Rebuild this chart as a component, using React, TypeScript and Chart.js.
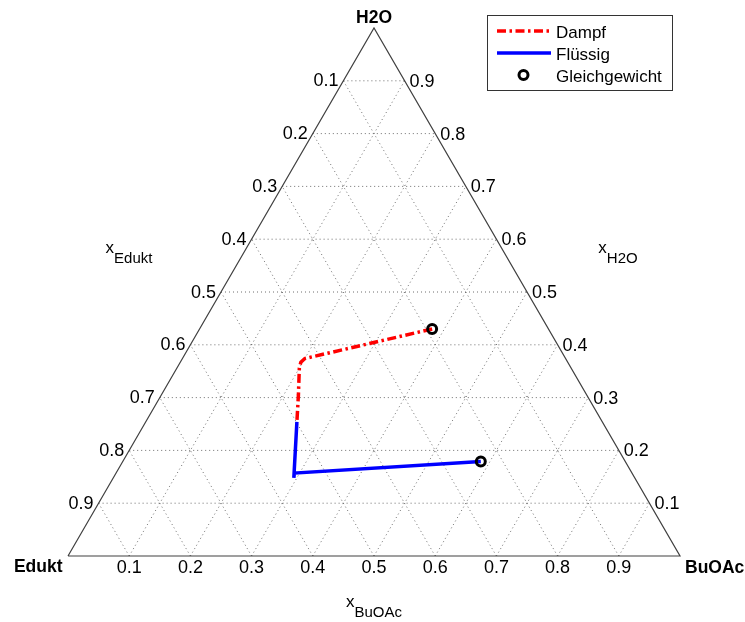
import React, { useEffect, useRef } from 'react';
import { Chart, registerables } from 'chart.js';

Chart.register(...registerables);

// ---- data (ternary fractions: xBuOAc, xH2O; xEdukt = 1 - both) ----
const vertexLabels = ['Edukt', 'BuOAc', 'H2O'];
const tickValues = [0.1, 0.2, 0.3, 0.4, 0.5, 0.6, 0.7, 0.8, 0.9];
const tickLabels = ['0.1', '0.2', '0.3', '0.4', '0.5', '0.6', '0.7', '0.8', '0.9'];
const axisTitleSubs = ['Edukt', 'H2O', 'BuOAc'];
const seriesLabels = ['Dampf', 'Flüssig', 'Gleichgewicht'];

const dampfBuOAc = [0.380, 0.200, 0.197, 0.200, 0.224, 0.247];
const dampfH2O = [0.430, 0.374, 0.367, 0.356, 0.305, 0.254];

const fluessigBuOAc = [0.247, 0.271, 0.295, 0.2915, 0.585];
const fluessigH2O = [0.254, 0.201, 0.148, 0.157, 0.179];

const gleichBuOAc = [0.380, 0.585];
const gleichH2O = [0.430, 0.179];

const toXY = (b: number, h: number) => ({ x: b + h / 2, y: h });
const series = (bs: number[], hs: number[]) => bs.map((b, i) => toXY(b, hs[i]));

const FONT = '"Liberation Sans", Arial, sans-serif';

export default function App() {
  const ref = useRef<HTMLCanvasElement | null>(null);

  useEffect(() => {
    document.body.style.margin = '0';
    const canvas = ref.current;
    if (!canvas) return;

    const gridSets: any[] = [];
    tickValues.forEach((t) => {
      const lines = [
        [toXY(0, t), toXY(1 - t, t)],
        [toXY(t, 0), toXY(t, 1 - t)],
        [toXY(1 - t, 0), toXY(0, 1 - t)],
      ];
      lines.forEach((d) =>
        gridSets.push({
          data: d,
          showLine: true,
          borderColor: '#6e6e6e',
          borderWidth: 1,
          borderDash: [1, 3],
          pointRadius: 0,
          order: 5,
          clip: false,
        })
      );
    });

    const labelPlugin = {
      id: 'ternaryText',
      afterDraw(chart: any) {
        const ctx = chart.ctx;
        const xs = chart.scales.x;
        const ys = chart.scales.y;
        const P = (b: number, h: number) => [xs.getPixelForValue(b + h / 2), ys.getPixelForValue(h)];
        ctx.save();
        ctx.fillStyle = '#000';
        ctx.textBaseline = 'alphabetic';
        ctx.font = `18px ${FONT}`;
        tickValues.forEach((t, i) => {
          let [px, py] = P(t, 0);
          ctx.textAlign = 'center';
          ctx.fillText(tickLabels[i], px, py + 17);
          [px, py] = P(0, 1 - t);
          ctx.textAlign = 'right';
          ctx.fillText(tickLabels[i], px - 5, py + 5.5);
          [px, py] = P(1 - t, t);
          ctx.textAlign = 'left';
          ctx.fillText(tickLabels[i], px + 5, py + 6);
        });

        ctx.font = `bold 17.5px ${FONT}`;
        let [vx, vy] = P(0, 0);
        ctx.textAlign = 'right';
        ctx.fillText(vertexLabels[0], vx - 5.5, vy + 16);
        [vx, vy] = P(1, 0);
        ctx.textAlign = 'left';
        ctx.fillText(vertexLabels[1], vx + 5, vy + 16.5);
        [vx, vy] = P(0, 1);
        ctx.textAlign = 'center';
        ctx.fillText(vertexLabels[2], vx, vy - 5);

        const [cx] = P(0, 1);
        const drawTitle = (sub: string, centerX: number, baseY: number) => {
          ctx.font = `17px ${FONT}`;
          const wx = ctx.measureText('x').width;
          ctx.font = `15px ${FONT}`;
          const ws = ctx.measureText(sub).width;
          const left = centerX - (wx + ws) / 2;
          ctx.textAlign = 'left';
          ctx.font = `17px ${FONT}`;
          ctx.fillText('x', left, baseY);
          ctx.font = `15px ${FONT}`;
          ctx.fillText(sub, left + wx, baseY + 10);
        };
        const top = chart.chartArea.top;
        const bottom = chart.chartArea.bottom;
        drawTitle(axisTitleSubs[0], cx - 245, top + 225);
        drawTitle(axisTitleSubs[1], cx + 244, top + 225);
        drawTitle(axisTitleSubs[2], cx, bottom + 51);

        // legend
        const lx = 487.5, ly = 15.5, lw = 185, lh = 75;
        ctx.fillStyle = '#fff';
        ctx.fillRect(lx, ly, lw, lh);
        ctx.strokeStyle = '#333';
        ctx.lineWidth = 1;
        ctx.setLineDash([]);
        ctx.strokeRect(lx, ly, lw, lh);
        const rows = [31, 53, 75];
        const dsIdx = [1, 2, 0];
        ctx.font = `17px ${FONT}`;
        rows.forEach((ry, i) => {
          const ds = chart.data.datasets[dsIdx[i]];
          if (i < 2) {
            ctx.save();
            ctx.strokeStyle = ds.borderColor;
            ctx.lineWidth = ds.borderWidth;
            ctx.setLineDash(ds.borderDash || []);
            ctx.beginPath();
            ctx.moveTo(497, ry);
            ctx.lineTo(551, ry);
            ctx.stroke();
            ctx.restore();
          } else {
            ctx.save();
            ctx.strokeStyle = ds.pointBorderColor;
            ctx.lineWidth = ds.pointBorderWidth;
            ctx.beginPath();
            ctx.arc(523.5, ry, ds.pointRadius, 0, Math.PI * 2);
            ctx.stroke();
            ctx.restore();
          }
          ctx.fillStyle = '#000';
          ctx.textAlign = 'left';
          ctx.fillText(ds.label, 556, ry + 6.5);
        });
        ctx.restore();
      },
    };

    const chart = new Chart(canvas, {
      type: 'scatter',
      data: {
        datasets: [
          {
            label: seriesLabels[2],
            data: series(gleichBuOAc, gleichH2O),
            showLine: false,
            pointRadius: 4.5,
            pointBorderWidth: 3,
            pointBorderColor: '#000',
            pointBackgroundColor: 'rgba(0,0,0,0)',
            order: 0,
            clip: false,
          } as any,
          {
            label: seriesLabels[0],
            data: series(dampfBuOAc, dampfH2O),
            showLine: true,
            borderColor: '#ff0000',
            borderWidth: 3.5,
            borderDash: [9, 3.5, 2.5, 3.5],
            pointRadius: 0,
            order: 1,
            clip: false,
          },
          {
            label: seriesLabels[1],
            data: series(fluessigBuOAc, fluessigH2O),
            showLine: true,
            borderColor: '#0000ff',
            borderWidth: 3.5,
            pointRadius: 0,
            order: 2,
            clip: false,
          },
          {
            data: [toXY(0, 0), toXY(1, 0), toXY(0, 1), toXY(0, 0)],
            showLine: true,
            borderColor: '#404040',
            borderWidth: 1.2,
            pointRadius: 0,
            order: 4,
            clip: false,
          },
          ...gridSets,
        ],
      },
      options: {
        responsive: false,
        animation: false,
        events: [],
        layout: { padding: { left: 68, right: 65, top: 28, bottom: 66 } },
        scales: {
          x: { type: 'linear', min: 0, max: 1, display: false },
          y: { type: 'linear', min: 0, max: 1, display: false },
        },
        plugins: { legend: { display: false }, tooltip: { enabled: false } },
      },
      plugins: [labelPlugin],
    });

    return () => chart.destroy();
  }, []);

  return <canvas ref={ref} width={745} height={622} style={{ display: 'block' }} />;
}
